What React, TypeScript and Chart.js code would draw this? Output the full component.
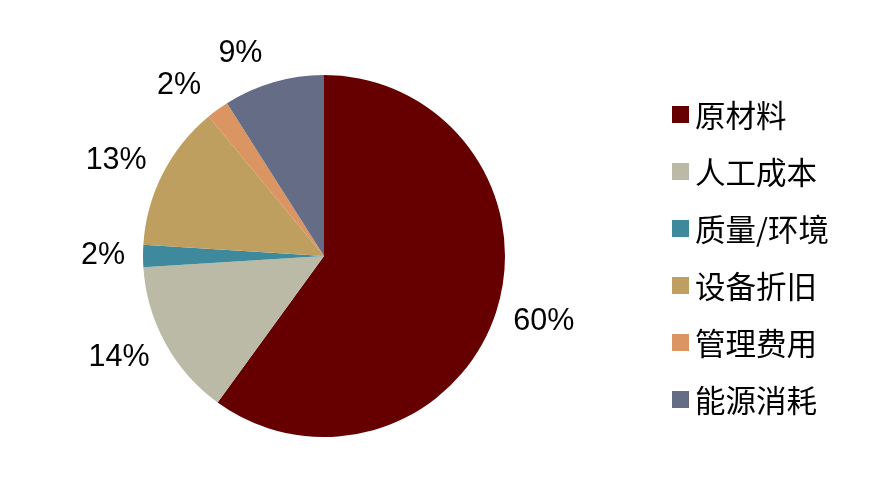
import React, { useEffect, useRef } from "react";
import { Chart, registerables } from "chart.js";

Chart.register(...registerables);

const categories = ["原材料", "人工成本", "质量/环境", "设备折旧", "管理费用", "能源消耗"];
const shares = [60, 14, 2, 13, 2, 9];
const percentLabels = ["60%", "14%", "2%", "13%", "2%", "9%"];
const colors = ["#660000", "#BBBAA6", "#3E8A9C", "#BF9F5F", "#DA9562", "#646C86"];

const labelPlugin = {
  id: "outerLabels",
  afterDraw(chart: any) {
    const ctx = chart.ctx;
    const meta = chart.getDatasetMeta(0);
    ctx.save();
    ctx.font = "30.5px 'Liberation Sans', Arial, sans-serif";
    ctx.fillStyle = "#000000";
    ctx.textAlign = "center";
    ctx.textBaseline = "middle";
    meta.data.forEach((arc: any, i: number) => {
      const { x, y, startAngle, endAngle, outerRadius } = arc.getProps(
        ["x", "y", "startAngle", "endAngle", "outerRadius"],
        true
      );
      const mid = (startAngle + endAngle) / 2;
      const r = outerRadius + 18;
      const cx = Math.cos(mid);
      const sy = Math.sin(mid);
      const text = percentLabels[i];
      const w = ctx.measureText(text).width;
      const lx = x + cx * r + Math.sign(cx) * (w / 2) - (sy < -0.8 ? 6 : 0);
      const ly = y + sy * r + sy * 12;
      ctx.fillText(text, lx, ly);
    });
    // legend
    ctx.font = "30.5px 'Noto Sans CJK SC', sans-serif";
    ctx.textAlign = "left";
    ctx.textBaseline = "middle";
    categories.forEach((c, i) => {
      const yy = 114 + i * 57;
      ctx.fillStyle = colors[i];
      ctx.fillRect(672, yy - 8, 17, 17);
      ctx.fillStyle = "#000000";
      ctx.fillText(c, 695, yy + 1);
    });
    ctx.restore();
  },
};

export default function App() {
  const ref = useRef<HTMLCanvasElement | null>(null);
  useEffect(() => {
    if (!ref.current) return;
    const chart = new Chart(ref.current, {
      type: "pie",
      data: {
        labels: categories,
        datasets: [
          {
            data: shares,
            backgroundColor: colors,
            borderWidth: 0,
          },
        ],
      },
      options: {
        animation: false,
        responsive: false,
        maintainAspectRatio: false,
        layout: { padding: { left: 143, right: 384, top: 75, bottom: 58 } },
        plugins: {
          legend: { display: false },
          tooltip: { enabled: false },
        },
      },
      plugins: [labelPlugin],
    });
    return () => chart.destroy();
  }, []);
  return (
    <div style={{ position: "absolute", left: 0, top: 0, width: 889, height: 495, background: "#fff" }}>
      <canvas ref={ref} width={889} height={495} style={{ width: 889, height: 495 }} />
    </div>
  );
}
